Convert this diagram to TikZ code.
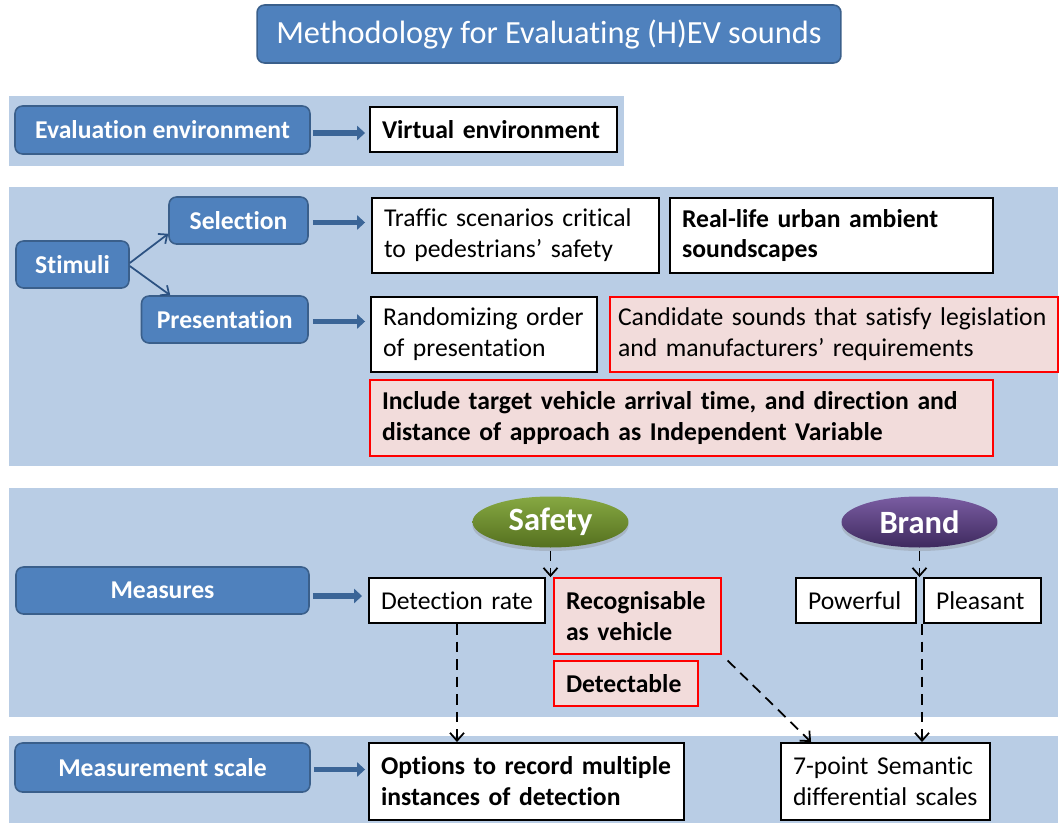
\documentclass[tikz,border=0pt]{standalone}
\usepackage{fontspec}
\setmainfont{Carlito}[Ligatures=NoCommon]
\usetikzlibrary{arrows.meta,shapes.geometric,shadows,calc}

\definecolor{bandblue}{HTML}{B9CDE5}
\definecolor{boxblue}{HTML}{4F81BD}
\definecolor{boxedge}{HTML}{3A5F8B}
\definecolor{arrowblue}{HTML}{3B6597}
\definecolor{thinblue}{HTML}{2C5282}
\definecolor{softpink}{HTML}{F2DCDB}
\definecolor{safetytop}{HTML}{86A842}
\definecolor{safetybot}{HTML}{55701F}
\definecolor{brandtop}{HTML}{7A5CA2}
\definecolor{brandbot}{HTML}{3E2A5E}

\hyphenpenalty=10000
\exhyphenpenalty=10000

\newcommand{\bodysz}{\fontsize{14.6}{17.6}\selectfont}
\newcommand{\titlesz}{\fontsize{18.4}{22}\selectfont}
\newcommand{\ovalsz}{\fontsize{18.5}{22}\selectfont}

\tikzset{
  bluebox/.style={rounded corners=0.15cm, fill=boxblue, draw=boxedge,
    line width=0.9pt, text=white, font=\bodysz\bfseries, align=center, inner sep=0pt},
  whitebox/.style={draw=black, line width=1.1pt, fill=white, font=\bodysz,
    align=left, inner xsep=0.24cm, inner ysep=0pt},
  redbox/.style={whitebox, draw=red, fill=softpink},
  oval/.style={ellipse, text=white, font=\ovalsz\bfseries, inner sep=0pt,
    minimum width=3.12cm, minimum height=1.02cm,
    drop shadow={opacity=0.3, shadow xshift=0pt, shadow yshift=-2pt}},
  bigarrow/.style={draw=arrowblue, line width=3.3pt,
    -{Triangle[length=4.5pt,width=8pt]}},
  thinarrow/.style={draw=thinblue, line width=1pt,
    -{Straight Barb[length=4pt,width=7pt]}},
  dasharrow/.style={draw=black, line width=1pt, dash pattern=on 6pt off 4pt,
    -{Straight Barb[length=4.5pt,width=8pt]}},
}

\begin{document}
\begin{tikzpicture}[x=0.02cm, y=-0.02cm]
  \useasboundingbox (0,0) rectangle (1062,825);

  % background bands
  \fill[bandblue] (9,96) rectangle (624,166);
  \fill[bandblue] (9,187) rectangle (1058,466);
  \fill[bandblue] (9,488) rectangle (1058,717);
  \fill[bandblue] (9,736) rectangle (1058,823);

  % title
  \node[bluebox, font=\titlesz, minimum width=11.68cm, minimum height=1.16cm]
    (title) at (549,34) {Methodology for Evaluating (H)EV sounds};

  % evaluation environment
  \node[bluebox, minimum width=5.9cm, minimum height=0.96cm] (evalenv) at (162.5,130) {Evaluation environment};
  \node[whitebox, font=\bodysz\bfseries, text width=4.46cm, minimum height=0.9cm] (virtual) at (493.5,129.5) {Virtual environment};

  % stimuli
  \node[bluebox, minimum width=2.26cm, minimum height=0.94cm] (stimuli) at (72.5,264.5) {Stimuli};
  \node[bluebox, minimum width=2.78cm, minimum height=0.94cm] (selection) at (238.5,220.5) {Selection};
  \node[bluebox, minimum width=3.33cm, minimum height=0.94cm] (presentation) at (224.75,319.5) {Presentation};

  \node[whitebox, text width=5.26cm, minimum height=1.5cm] (traffic) at (515.5,235.5)
    {Traffic scenarios critical\\to pedestrians’ safety};
  \node[whitebox, font=\bodysz\bfseries, text width=5.98cm, minimum height=1.5cm] (reallife) at (831.5,235.5)
    {Real-life urban ambient\\soundscapes};
  \node[whitebox, text width=4.04cm, minimum height=1.5cm] (random) at (484,334.5)
    {Randomizing order\\of presentation};
  \node[redbox, inner xsep=0.16cm, text width=8.64cm, minimum height=1.5cm] (candidate) at (834,334.5)
    {Candidate sounds that satisfy legislation\\and manufacturers’ requirements};
  \node[redbox, font=\bodysz\bfseries, text width=11.98cm, minimum height=1.52cm] (include) at (681.5,418)
    {Include target vehicle arrival time, and direction and\\distance of approach as Independent Variable};

  % measures
  \node[bluebox, minimum width=5.86cm, minimum height=0.94cm] (measures) at (162.5,590.5) {Measures};
  \node[oval, top color=safetytop, bottom color=safetybot] (safety) at (550.5,522) {Safety};
  \node[oval, top color=brandtop, bottom color=brandbot] (brand) at (919.5,522) {Brand};
  \node[whitebox, text width=3.04cm, minimum height=0.9cm] (detection) at (457,600.5) {Detection rate};
  \node[redbox, font=\bodysz\bfseries, text width=2.86cm, minimum height=1.52cm] (recog) at (637.5,616)
    {Recognisable\\as vehicle};
  \node[redbox, font=\bodysz\bfseries, text width=2.4cm, minimum height=0.9cm] (detectable) at (626,683.5) {Detectable};
  \node[whitebox, text width=1.92cm, minimum height=0.9cm] (powerful) at (856,600.5) {Powerful};
  \node[whitebox, text width=1.86cm, minimum height=0.9cm] (pleasant) at (982.5,600.5) {Pleasant};

  % measurement scale
  \node[bluebox, minimum width=5.9cm, minimum height=0.98cm] (measscale) at (162.5,767.5) {Measurement scale};
  \node[whitebox, font=\bodysz\bfseries, text width=5.82cm, minimum height=1.54cm] (options) at (526.5,781.5)
    {Options to record multiple\\instances of detection};
  \node[whitebox, text width=3.7cm, minimum height=1.54cm] (sevenpt) at (885.5,781.5)
    {7-point Semantic\\differential scales};

  % block arrows
  \draw[bigarrow, shorten <=0.04cm, shorten >=0.08cm] ([yshift=-0.06cm]evalenv.east) -- ([yshift=-0.06cm]evalenv.east -| virtual.west);
  \draw[bigarrow, shorten <=0.08cm, shorten >=0.12cm] ([yshift=-0.04cm]selection.east) -- ([yshift=-0.04cm]selection.east -| traffic.west);
  \draw[bigarrow, shorten <=0.08cm, shorten >=0.1cm] ([yshift=-0.04cm]presentation.east) -- ([yshift=-0.04cm]presentation.east -| random.west);
  \draw[bigarrow, shorten <=0.06cm, shorten >=0.12cm] ([yshift=-0.11cm]measures.east) -- ([yshift=-0.11cm]measures.east -| detection.west);
  \draw[bigarrow, shorten <=0.06cm, shorten >=0.06cm] ([yshift=-0.04cm]measscale.east) -- ([yshift=-0.04cm]measscale.east -| options.west);

  % stimuli branches
  \draw[thinarrow] ([yshift=0.03cm]stimuli.east) -- ([yshift=0.22cm]selection.south west);
  \draw[thinarrow] ([yshift=-0.03cm]stimuli.east) -- ([xshift=0.59cm]presentation.north west);

  % dashed links
  \draw[dasharrow, shorten <=0.06cm] (safety.south) -- (safety.south |- detection.north);
  \draw[dasharrow, shorten <=0.06cm] (brand.south) -- (brand.south |- powerful.north);
  \draw[dasharrow] (detection.south) -- (detection.south |- options.north);
  \draw[dasharrow, shorten <=0.16cm] (recog.south east) -- ([xshift=0.62cm]sevenpt.north west);
  \draw[dasharrow] ([xshift=0.05cm]brand.south |- powerful.south) -- ([xshift=0.05cm]brand.south |- sevenpt.north);
\end{tikzpicture}
\end{document}
